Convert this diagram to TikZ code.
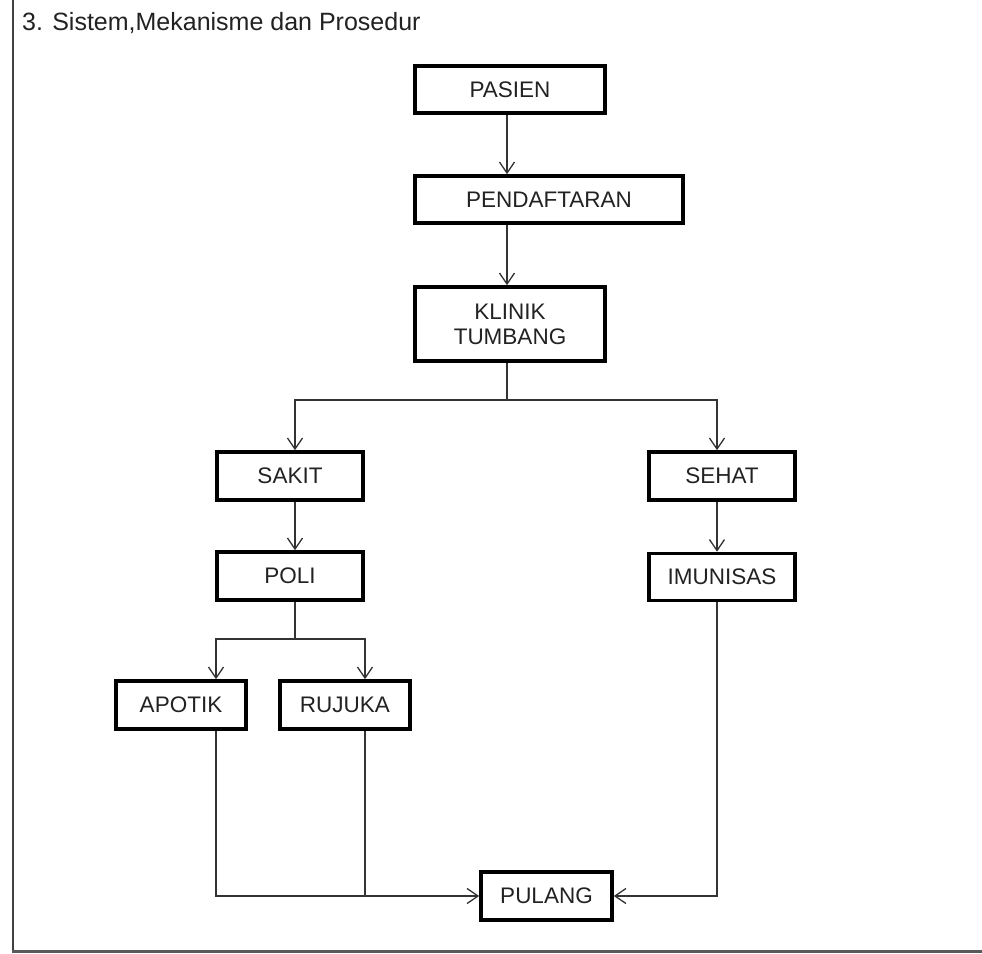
\documentclass[tikz,border=0pt]{standalone}
\usepackage{fontspec}
\setmainfont{Liberation Sans}
\usetikzlibrary{arrows.meta}
\definecolor{ink}{HTML}{222222}
\definecolor{lineink}{HTML}{333333}
\begin{document}
\begin{tikzpicture}[x=1pt,y=-1pt,
  box/.style={draw=black,line width=3.6pt,rectangle,inner sep=0pt,text=ink,
    font=\fontsize{22.5}{25}\selectfont,align=center},
  conn/.style={draw=lineink,line width=1.3pt},
  arr/.style={conn,-{Straight Barb[length=11pt,width=15pt,line width=1.3pt]}}]
\useasboundingbox (0,0) rectangle (982,953);
\fill[white] (0,0) rectangle (982,953);
% frame lines
\draw[draw=black!75,line width=2pt] (12.5,0) -- (12.5,953);
\draw[draw=black!65,line width=3pt] (11.5,951.5) -- (982,951.5);
% title
\node[anchor=base west,inner sep=0pt,text=ink,font=\fontsize{25}{30}\selectfont] (title) at (22,30) {3. Sistem,Mekanisme dan Prosedur};
% boxes
\node[box,minimum width=190pt,minimum height=47pt] (pasien) at (510,89.5) {PASIEN};
\node[box,minimum width=268pt,minimum height=47pt] (pend) at (549,199.5) {PENDAFTARAN};
\node[box,minimum width=190pt,minimum height=74pt] (klinik) at (510,324) {KLINIK\\TUMBANG};
\node[box,minimum width=146pt,minimum height=48pt] (sakit) at (290,476) {SAKIT};
\node[box,minimum width=146pt,minimum height=48pt] (poli) at (290,576) {POLI};
\node[box,minimum width=130pt,minimum height=48pt] (apotik) at (181,705) {APOTIK};
\node[box,minimum width=130pt,minimum height=48pt] (rujuka) at (345,705) {RUJUKA};
\node[box,minimum width=146pt,minimum height=48pt] (sehat) at (722,476) {SEHAT};
\node[box,minimum width=146pt,minimum height=47pt] (imun) at (722,577) {IMUNISAS};
\node[box,minimum width=131pt,minimum height=48pt] (pulang) at (546.5,896) {PULANG};
% helper coordinates
\coordinate (xa) at (507,0);
\coordinate (xs) at (295,0);
\coordinate (xh) at (717,0);
\coordinate (xp) at (216,0);
\coordinate (xr) at (365,0);
\coordinate (j1) at (507,400);
\coordinate (j2) at (295,639);
% connectors
\draw[arr] (pasien.south -| xa) -- (pend.north -| xa);
\draw[arr] (pend.south -| xa) -- (klinik.north -| xa);
\draw[conn] (klinik.south -| xa) -- (j1);
\draw[arr] (j1) -| (sakit.north -| xs);
\draw[arr] (j1) -| (sehat.north -| xh);
\draw[arr] (sakit.south -| xs) -- (poli.north -| xs);
\draw[arr] (sehat.south -| xh) -- (imun.north -| xh);
\draw[conn] (poli.south -| j2) -- (j2);
\draw[arr] (j2) -| (apotik.north -| xp);
\draw[arr] (j2) -| (rujuka.north -| xr);
\draw[arr] (apotik.south -| xp) |- (pulang.west);
\draw[conn] (rujuka.south -| xr) -- (xr |- pulang.west);
\draw[arr] (imun.south -| xh) |- (pulang.east);
\end{tikzpicture}
\end{document}
